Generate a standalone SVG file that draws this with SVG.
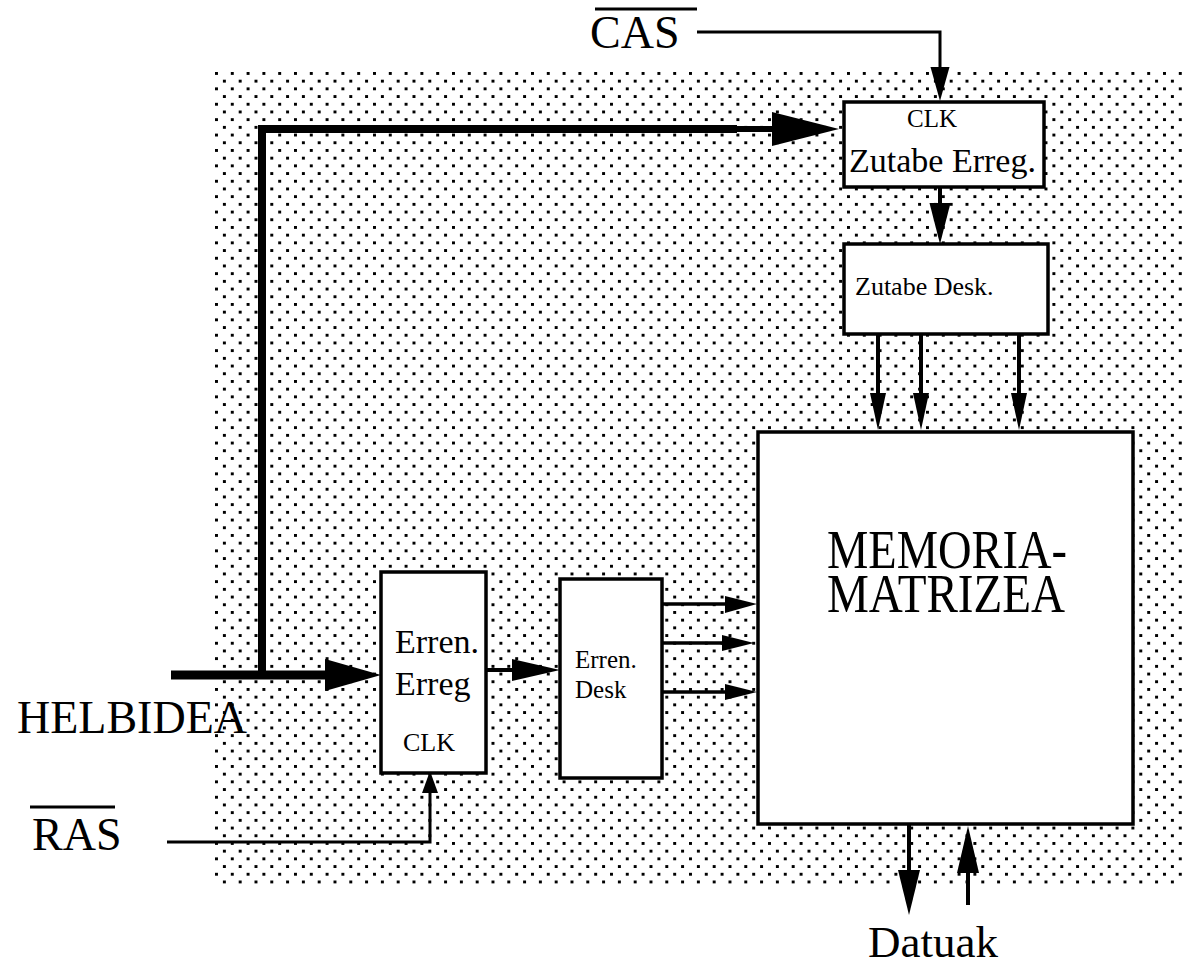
<svg xmlns="http://www.w3.org/2000/svg" width="1182" height="966" viewBox="0 0 1182 966">
  <defs>
    <pattern id="dots" patternUnits="userSpaceOnUse" x="215" y="72" width="15.8" height="15.4">
      <rect x="0" y="0" width="3" height="3" fill="#000" shape-rendering="crispEdges"/>
      <rect x="7.9" y="7.7" width="3" height="3" fill="#000" shape-rendering="crispEdges"/>
    </pattern>
    <style>
      .box { fill: #fff; stroke: #000; stroke-width: 3.5; }
      .t { font-family: "Liberation Serif", "DejaVu Serif", serif; fill: #000; }
      .ln { fill: none; stroke: #000; stroke-linejoin: miter; }
      .ah { fill: #000; stroke: none; }
    </style>
  </defs>
  <rect x="0" y="0" width="1182" height="966" fill="#fff"/>
  <rect id="shade" x="213" y="72" width="969" height="816" fill="url(#dots)"/>

  <g id="connectors">
    <!-- CAS -->
    <polyline class="ln" stroke-width="3" points="697,32 940,32 940,72"/>
    <polygon class="ah" points="930.5,67 949.5,67 940,101"/>
    <!-- Zutabe Erreg -> Zutabe Desk -->
    <line class="ln" stroke-width="4" x1="940" y1="187" x2="940" y2="206"/>
    <polygon class="ah" points="929.5,203 950.5,203 940,244"/>
    <!-- Zutabe Desk -> Memoria -->
    <line class="ln" stroke-width="4" x1="878" y1="334" x2="878" y2="396"/>
    <polygon class="ah" points="870,393 886,393 878,430"/>
    <line class="ln" stroke-width="4" x1="921" y1="334" x2="921" y2="396"/>
    <polygon class="ah" points="913,393 929,393 921,430"/>
    <line class="ln" stroke-width="4" x1="1019" y1="334" x2="1019" y2="396"/>
    <polygon class="ah" points="1011,393 1027,393 1019,430"/>
    <!-- HELBIDEA bus -->
    <line class="ln" stroke-width="9" x1="171" y1="675" x2="328" y2="675"/>
    <polygon class="ah" points="325,659 325,691 381,675"/>
    <polyline class="ln" stroke-width="8" points="262,679 262,129 737,129"/>
    <line class="ln" stroke-width="6" x1="735" y1="129" x2="776" y2="129"/>
    <polygon class="ah" points="772,112 772,146 839,129"/>
    <!-- Erren Erreg -> Erren Desk -->
    <line class="ln" stroke-width="4" x1="486" y1="670" x2="515" y2="670"/>
    <polygon class="ah" points="512,659 512,681 560,670"/>
    <!-- Erren Desk -> Memoria -->
    <line class="ln" stroke-width="3.5" x1="662" y1="604" x2="728" y2="604"/>
    <polygon class="ah" points="725,596 725,613 757,604"/>
    <line class="ln" stroke-width="3.5" x1="662" y1="643" x2="725" y2="643"/>
    <polygon class="ah" points="722,635 722,651 754,643"/>
    <line class="ln" stroke-width="3.5" x1="662" y1="692" x2="728" y2="692"/>
    <polygon class="ah" points="725,684 725,700 757,692"/>
    <!-- RAS -->
    <polyline class="ln" stroke-width="3" points="167,842 430,842 430,790"/>
    <polygon class="ah" points="422,793 438,793 430,771"/>
    <!-- Datuak -->
    <line class="ln" stroke-width="4" x1="909" y1="824" x2="909" y2="873"/>
    <polygon class="ah" points="898,870 920,870 909,915"/>
    <line class="ln" stroke-width="4" x1="968" y1="905" x2="968" y2="870"/>
    <polygon class="ah" points="957,873 979,873 968,826"/>
  </g>

  <g id="zutabe-erreg">
    <rect class="box" x="844" y="102" width="200" height="85"/>
    <text class="t" x="932" y="127" font-size="25" text-anchor="middle">CLK</text>
    <text class="t" x="849" y="172" font-size="34">Zutabe Erreg.</text>
  </g>

  <g id="zutabe-desk">
    <rect class="box" x="844" y="244" width="204" height="90"/>
    <text class="t" x="855" y="295" font-size="26">Zutabe Desk.</text>
  </g>

  <g id="memoria">
    <rect class="box" x="758" y="432" width="375" height="392"/>
    <text class="t" font-size="54"><tspan x="827" y="568" textLength="240" lengthAdjust="spacingAndGlyphs">MEMORIA-</tspan><tspan x="827" y="612" textLength="238" lengthAdjust="spacingAndGlyphs">MATRIZEA</tspan></text>
  </g>

  <g id="erren-erreg">
    <rect class="box" x="381" y="572" width="105" height="201"/>
    <text class="t" x="395" y="653" font-size="34">Erren.</text>
    <text class="t" x="395" y="695" font-size="34">Erreg</text>
    <text class="t" x="403" y="751" font-size="26">CLK</text>
  </g>

  <g id="erren-desk">
    <rect class="box" x="560" y="579" width="102" height="199"/>
    <text class="t" x="575" y="668" font-size="25">Erren.</text>
    <text class="t" x="575" y="698" font-size="25">Desk</text>
  </g>

  <g id="cas">
    <text class="t" x="590" y="48" font-size="46">CAS</text>
    <line class="ln" stroke-width="3" x1="595" y1="9" x2="697" y2="9"/>
  </g>

  <g id="helbidea">
    <text class="t" x="17" y="733" font-size="46">HELBIDEA</text>
  </g>

  <g id="ras">
    <text class="t" x="32" y="850" font-size="46">RAS</text>
    <line class="ln" stroke-width="3" x1="30" y1="807" x2="115" y2="807"/>
  </g>

  <g id="datuak">
    <text class="t" x="868" y="957" font-size="45">Datuak</text>
  </g>
</svg>
